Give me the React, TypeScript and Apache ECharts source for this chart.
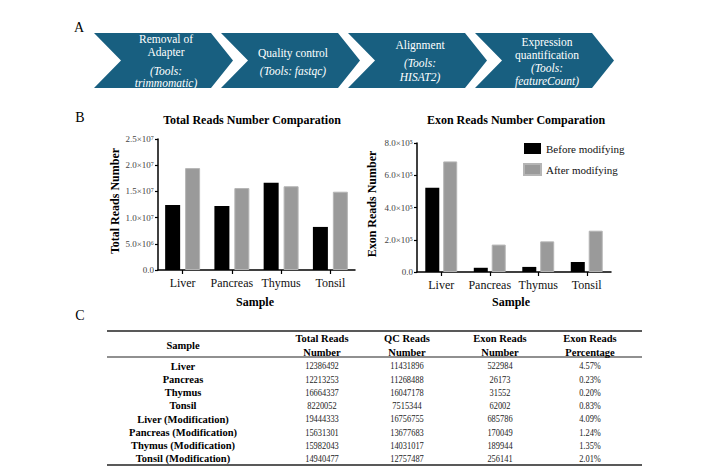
import React, { useEffect, useRef } from "react";
import * as echarts from "echarts";

const categories = ["Liver", "Pancreas", "Thymus", "Tonsil"];
const totalBefore = [12386492, 12213253, 16664337, 8220052];
const totalAfter = [19444333, 15631301, 15982043, 14940477];
const exonBefore = [522984, 26173, 31552, 62002];
const exonAfter = [685786, 170049, 189944, 256141];
const totalTicks = ["0.0", "5.0×10⁶", "1.0×10⁷", "1.5×10⁷", "2.0×10⁷", "2.5×10⁷"];
const exonTicks = ["0.0", "2.0×10⁵", "4.0×10⁵", "6.0×10⁵", "8.0×10⁵"];
const seriesNames = ["Before modifying", "After modifying"];

const stepTitles = [["Removal of", "Adapter"], ["Quality control"], ["Alignment"], ["Expression", "quantification"]];
const stepTools = [["(Tools:", "trimmomatic)"], ["(Tools: fastqc)"], ["(Tools:", "HISAT2)"], ["(Tools:", "featureCount)"]];

const tableHeaders = [["Sample"], ["Total Reads", "Number"], ["QC Reads", "Number"], ["Exon Reads", "Number"], ["Exon Reads", "Percentage"]];
const tableSamples = [
  "Liver", "Pancreas", "Thymus", "Tonsil",
  "Liver (Modification)", "Pancreas (Modification)", "Thymus (Modification)", "Tonsil (Modification)",
];
const tableTotal = [...totalBefore, ...totalAfter];
const tableQC = [11431896, 11268488, 16047178, 7515344, 16756755, 13677683, 14031017, 12757487];
const tableExon = [...exonBefore, ...exonAfter];
const tablePct = ["4.57%", "0.23%", "0.20%", "0.83%", "4.09%", "1.24%", "1.35%", "2.01%"];

const SERIF = '"Liberation Serif", "Times New Roman", serif';

function txt(x: number, y: number, text: string, font: string, fill = "#000", extra: any = {}) {
  return {
    type: "text",
    x,
    y,
    silent: true,
    ...extra,
    style: {
      text,
      font,
      fill,
      align: "center",
      textAlign: "center",
      verticalAlign: "middle",
      textVerticalAlign: "middle",
    },
  };
}

export default function App() {
  const ref = useRef<HTMLDivElement>(null);
  useEffect(() => {
    if (!ref.current) return;
    const chart = echarts.init(ref.current, null, { renderer: "svg" });
    const graphics: any[] = [];

    // Panel letters
    graphics.push(txt(79, 27, "A", `14px ${SERIF}`));
    graphics.push(txt(80, 117, "B", `14px ${SERIF}`));
    graphics.push(txt(80, 315, "C", `14px ${SERIF}`));

    // Chevrons
    const top = 33, bot = 88, mid = 60.5;
    const stepTitleY = [[39, 52], [53], [45], [42, 54.5]];
    const stepToolY = [[70.5, 83], [71], [63, 77], [68, 81]];
    stepTitles.forEach((t, i) => {
      const L = 94 + 127 * i;
      graphics.push({
        type: "polygon",
        silent: true,
        shape: {
          points: [[L, top], [L + 117, top], [L + 139, mid], [L + 117, bot], [L, bot], [L + 27, mid]],
        },
        style: { fill: "#185f80" },
      });
      const cx = (L + 27 + L + 117) / 2;
      t.forEach((line, j) => graphics.push(txt(cx, stepTitleY[i][j], line, `11.5px ${SERIF}`, "#fff")));
      stepTools[i].forEach((line, j) => graphics.push(txt(cx, stepToolY[i][j], line, `italic 11.5px ${SERIF}`, "#fff")));
    });

    // Chart titles & axis names
    graphics.push(txt(252, 120, "Total Reads Number Comparation", `bold 12px ${SERIF}`));
    graphics.push(txt(516, 120, "Exon Reads Number Comparation", `bold 12px ${SERIF}`));
    graphics.push(txt(115, 201, "Total Reads Number", `bold 12px ${SERIF}`, "#000", { rotation: Math.PI / 2 }));
    graphics.push(txt(372, 204, "Exon Reads Number", `bold 12px ${SERIF}`, "#000", { rotation: Math.PI / 2 }));
    graphics.push(txt(255, 302, "Sample", `bold 12px ${SERIF}`));
    graphics.push(txt(511, 302, "Sample", `bold 12px ${SERIF}`));

    // Table
    const colX = [183, 322, 407, 500, 590];
    const tL = 107, tR = 642;
    [[331, 1.5], [357, 1.2], [465, 1.5]].forEach(([y, w]) =>
      graphics.push({
        type: "line",
        silent: true,
        shape: { x1: tL, y1: y, x2: tR, y2: y },
        style: { stroke: "#222", lineWidth: w },
      })
    );
    tableHeaders.forEach((h, c) => {
      if (h.length === 1) graphics.push(txt(colX[c], 345, h[0], `bold 10.5px ${SERIF}`));
      else {
        graphics.push(txt(colX[c], 338, h[0], `bold 10.5px ${SERIF}`));
        graphics.push(txt(colX[c], 352, h[1], `bold 10.5px ${SERIF}`));
      }
    });
    tableSamples.forEach((s, r) => {
      const y = 366 + 13.25 * r;
      graphics.push(txt(colX[0], y, s, `bold 10.5px ${SERIF}`));
      const vals = [String(tableTotal[r]), String(tableQC[r]), String(tableExon[r]), tablePct[r]];
      vals.forEach((v, c) =>
        graphics.push(txt(colX[c + 1], y, v, `10.5px ${SERIF}`, "#222", { scaleX: 0.8 }))
      );
    });

    const axisLine = { show: true, lineStyle: { color: "#000", width: 1.5 } };
    const mkX = (gi: number) => ({
      type: "category",
      gridIndex: gi,
      data: categories,
      axisLine,
      axisTick: { show: true, alignWithLabel: true, length: 4, lineStyle: { color: "#000", width: 1.2 } },
      axisLabel: { interval: 0, hideOverlap: false, fontFamily: SERIF, fontSize: 12, color: "#111", margin: 7 },
      splitLine: { show: false },
    });
    const mkY = (gi: number, max: number, interval: number, labels: string[]) => ({
      type: "value",
      gridIndex: gi,
      min: 0,
      max,
      interval,
      axisLine,
      axisTick: { show: true, length: 3, lineStyle: { color: "#000", width: 1.2 } },
      axisLabel: {
        fontFamily: SERIF,
        fontSize: 9,
        color: "#444",
        margin: 4,
        formatter: (_v: number, idx: number) => labels[idx] ?? "",
      },
      splitLine: { show: false },
    });

    const grayStyle = { color: "#9a9a9a", borderColor: "#b5b5b5", borderWidth: 1 };

    chart.setOption({
      animation: false,
      backgroundColor: "#fff",
      grid: [
        { left: 158, top: 139, width: 197, height: 131 },
        { left: 417, top: 143, width: 194, height: 129 },
      ],
      xAxis: [mkX(0), mkX(1)],
      yAxis: [mkY(0, 2.5e7, 5e6, totalTicks), mkY(1, 8e5, 2e5, exonTicks)],
      legend: {
        data: seriesNames,
        orient: "vertical",
        left: 523,
        top: 143,
        padding: 0,
        itemWidth: 17,
        itemHeight: 11,
        itemGap: 9,
        icon: "rect",
        textStyle: { fontFamily: SERIF, fontSize: 11, color: "#111" },
      },
      series: [
        { name: seriesNames[0], type: "bar", xAxisIndex: 0, yAxisIndex: 0, data: totalBefore, barWidth: 15, barGap: "33%", itemStyle: { color: "#000" } },
        { name: seriesNames[1], type: "bar", xAxisIndex: 0, yAxisIndex: 0, data: totalAfter, barWidth: 15, barGap: "33%", itemStyle: grayStyle },
        { name: seriesNames[0], type: "bar", xAxisIndex: 1, yAxisIndex: 1, data: exonBefore, barWidth: 14, barGap: "28%", itemStyle: { color: "#000" } },
        { name: seriesNames[1], type: "bar", xAxisIndex: 1, yAxisIndex: 1, data: exonAfter, barWidth: 14, barGap: "28%", itemStyle: grayStyle },
      ],
      graphic: { elements: graphics },
    });
    return () => chart.dispose();
  }, []);

  return (
    <div
      ref={ref}
      style={{ position: "absolute", left: 0, top: 0, width: 724, height: 475, background: "#fff" }}
    />
  );
}
